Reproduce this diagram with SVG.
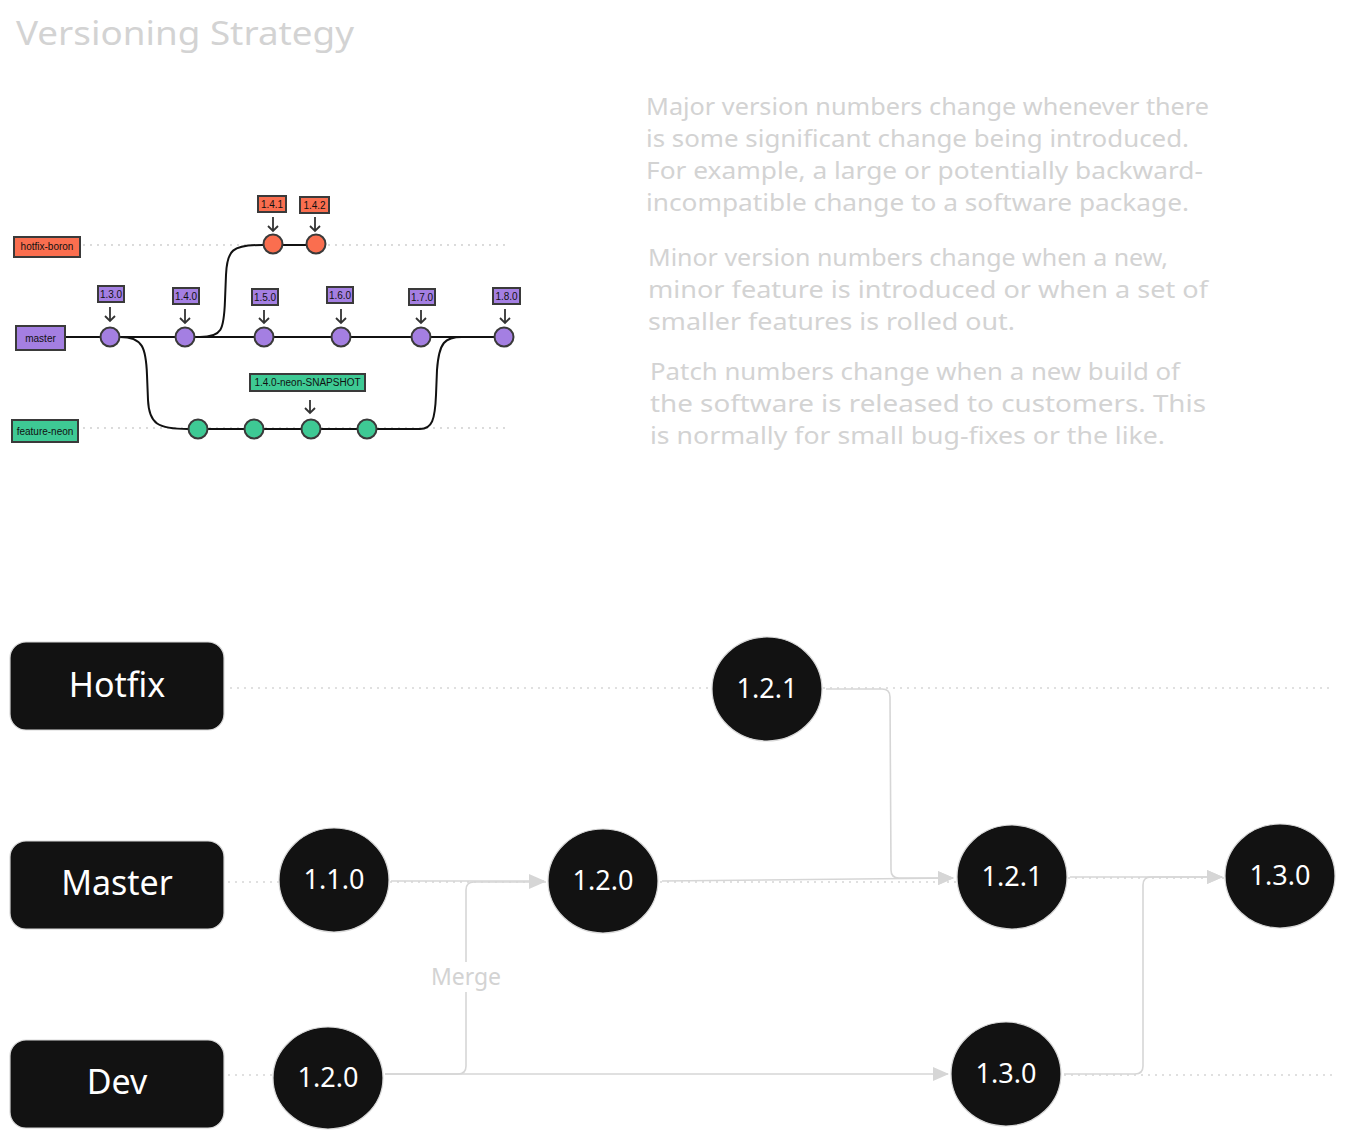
<svg xmlns="http://www.w3.org/2000/svg" width="1346" height="1141" viewBox="0 0 1346 1141">
<style>
.bg{fill:#ffffff}
.hand{font-family:"Noto Sans","Liberation Sans",sans-serif;fill:#d3d3d3}
.para{font-size:23px}
.tag{stroke:#3a3a3a;stroke-width:2}
.tagtxt{font-family:"Liberation Sans",Arial,sans-serif;font-size:10px;fill:#111;text-anchor:middle}
.coral{fill:#fa6e4f}
.purple{fill:#a47fe2}
.teal{fill:#3ec994}
.commit{stroke:#3a3a3a;stroke-width:2}
.branch{fill:none;stroke:#111;stroke-width:2}
.dots{fill:none;stroke:#cfcfcf;stroke-width:2;stroke-linecap:round;stroke-dasharray:0 7}
.ptr{fill:none;stroke:#333;stroke-width:1.8}
.box{fill:#121212;stroke:#d8d8d8;stroke-width:1.2}
.boxtxt{font-family:"Noto Sans","Liberation Sans",sans-serif;font-size:34px;fill:#ffffff;text-anchor:middle}
.ver{fill:#121212;stroke:#d8d8d8;stroke-width:1.2}
.vertxt{font-family:"Noto Sans","Liberation Sans",sans-serif;font-size:27px;fill:#ffffff;text-anchor:middle}
.lane{fill:none;stroke:#d6d6d6;stroke-width:1.3;stroke-dasharray:2 5}
.conn{fill:none;stroke:#d6d6d6;stroke-width:1.6}
</style>
<defs>
<marker id="big" viewBox="0 0 16 14" refX="15" refY="7" markerWidth="16" markerHeight="14" markerUnits="userSpaceOnUse" orient="auto">
<path d="M0,0 L16,7 L0,14 z" fill="#d6d6d6"/>
</marker>
</defs>
<rect class="bg" x="0" y="0" width="1346" height="1141"/>

<text class="hand" x="16" y="45" font-size="33" textLength="338" lengthAdjust="spacingAndGlyphs">Versioning Strategy</text>

<g id="description" class="hand para">
<text x="646" y="115" textLength="563" lengthAdjust="spacingAndGlyphs">Major version numbers change whenever there</text>
<text x="646" y="147" textLength="543" lengthAdjust="spacingAndGlyphs">is some significant change being introduced.</text>
<text x="646" y="179" textLength="557" lengthAdjust="spacingAndGlyphs">For example, a large or potentially backward-</text>
<text x="646" y="211" textLength="543" lengthAdjust="spacingAndGlyphs">incompatible change to a software package.</text>
<text x="648" y="266" textLength="520" lengthAdjust="spacingAndGlyphs">Minor version numbers change when a new,</text>
<text x="648" y="298" textLength="560" lengthAdjust="spacingAndGlyphs">minor feature is introduced or when a set of</text>
<text x="648" y="330" textLength="367" lengthAdjust="spacingAndGlyphs">smaller features is rolled out.</text>
<text x="650" y="380" textLength="530" lengthAdjust="spacingAndGlyphs">Patch numbers change when a new build of</text>
<text x="650" y="412" textLength="556" lengthAdjust="spacingAndGlyphs">the software is released to customers. This</text>
<text x="650" y="444" textLength="515" lengthAdjust="spacingAndGlyphs">is normally for small bug-fixes or the like.</text>
</g>

<!-- small git-flow picture -->
<g id="gitflow-lines">
<path class="dots" d="M84,245 H510"/>
<path class="dots" d="M84,428 H510"/>
<path class="branch" d="M66,337 H505"/>
<path class="branch" d="M200,337 C222,337 224,330 225,300 L226,275 C227,250 232,245 262,245 H316"/>
<path class="branch" d="M120,337 C143,337 146,348 147,375 L148,400 C149,424 158,429 188,429 H420 C432,429 435,420 436,395 L437,370 C439,342 445,337 462,337"/>
</g>

<g id="tag-hotfix-boron"><rect class="tag coral" x="14" y="237" width="66" height="20"/><text class="tagtxt" x="47" y="250">hotfix-boron</text></g>
<g id="tag-master"><rect class="tag purple" x="16" y="326" width="49" height="24"/><text class="tagtxt" x="40.5" y="341.5">master</text></g>
<g id="tag-feature-neon"><rect class="tag teal" x="12" y="420" width="66" height="22"/><text class="tagtxt" x="45" y="434.5">feature-neon</text></g>

<g id="commits-master">
<circle class="commit purple" cx="110" cy="337" r="9.5"/>
<circle class="commit purple" cx="185" cy="337" r="9.5"/>
<circle class="commit purple" cx="264" cy="337" r="9.5"/>
<circle class="commit purple" cx="341" cy="337" r="9.5"/>
<circle class="commit purple" cx="421" cy="337" r="9.5"/>
<circle class="commit purple" cx="504" cy="337" r="9.5"/>
</g>
<g id="commits-hotfix">
<circle class="commit coral" cx="273" cy="244" r="9.5"/>
<circle class="commit coral" cx="316" cy="244" r="9.5"/>
</g>
<g id="commits-feature">
<circle class="commit teal" cx="198" cy="429" r="9.5"/>
<circle class="commit teal" cx="254" cy="429" r="9.5"/>
<circle class="commit teal" cx="311" cy="429" r="9.5"/>
<circle class="commit teal" cx="367" cy="429" r="9.5"/>
</g>

<g id="version-tags">
<g><rect class="tag purple" x="98" y="286" width="26" height="16"/><text class="tagtxt" x="111" y="297.5">1.3.0</text><path class="ptr" d="M110,307 V321 M105,316 L110,321 L115,316"/></g>
<g><rect class="tag purple" x="173" y="288" width="26" height="16"/><text class="tagtxt" x="186" y="299.5">1.4.0</text><path class="ptr" d="M185,309 V323 M180,318 L185,323 L190,318"/></g>
<g><rect class="tag purple" x="252" y="289" width="26" height="16"/><text class="tagtxt" x="265" y="300.5">1.5.0</text><path class="ptr" d="M264,310 V323 M259,318 L264,323 L269,318"/></g>
<g><rect class="tag purple" x="327" y="287" width="26" height="16"/><text class="tagtxt" x="340" y="298.5">1.6.0</text><path class="ptr" d="M341,309 V323 M336,318 L341,323 L346,318"/></g>
<g><rect class="tag purple" x="409" y="289" width="26" height="16"/><text class="tagtxt" x="422" y="300.5">1.7.0</text><path class="ptr" d="M421,310 V323 M416,318 L421,323 L426,318"/></g>
<g><rect class="tag purple" x="493" y="288" width="27" height="16"/><text class="tagtxt" x="506.5" y="299.5">1.8.0</text><path class="ptr" d="M505,309 V323 M500,318 L505,323 L510,318"/></g>
<g><rect class="tag coral" x="258" y="196" width="28" height="16"/><text class="tagtxt" x="272" y="207.5">1.4.1</text><path class="ptr" d="M273,217 V231 M268,226 L273,231 L278,226"/></g>
<g><rect class="tag coral" x="300" y="197" width="29" height="16"/><text class="tagtxt" x="314.5" y="208.5">1.4.2</text><path class="ptr" d="M315,217 V231 M310,226 L315,231 L320,226"/></g>
<g><rect class="tag teal" x="250" y="374" width="115" height="17"/><text class="tagtxt" x="307.5" y="386">1.4.0-neon-SNAPSHOT</text><path class="ptr" d="M310,400 V413 M305,408 L310,413 L315,408"/></g>
</g>

<!-- bottom diagram -->
<g id="lanes">
<path class="lane" d="M230,688 H712 M823,688 H1332"/>
<path class="lane" d="M228,882 H280 M390,882 H548 M660,882 H957 M1068,878 H1225"/>
<path class="lane" d="M228,1075 H273 M1064,1075 H1332"/>
</g>

<g id="connectors">
<path class="conn" d="M391,881 H544" marker-end="url(#big)"/>
<path class="conn" d="M385,1074 H458 Q466,1074 466,1066 V890 Q466,882 474,882 H544" marker-end="url(#big)"/>
<path class="conn" d="M385,1074 H948" marker-end="url(#big)"/>
<path class="conn" d="M662,881 L953,878" marker-end="url(#big)"/>
<path class="conn" d="M826,689 H882 Q890,689 890,697 L891,870 Q891,878 899,878 H953" marker-end="url(#big)"/>
<path class="conn" d="M1070,877 H1222" marker-end="url(#big)"/>
<path class="conn" d="M1064,1074 H1135 Q1143,1074 1143,1066 V885 Q1143,877 1151,877 H1222" marker-end="url(#big)"/>
<rect x="440" y="962" width="52" height="30" fill="#ffffff"/>
<text class="hand" x="466" y="985" font-size="23" text-anchor="middle">Merge</text>
</g>

<g id="node-hotfix"><rect class="box" x="10" y="642" width="214" height="88" rx="16"/><text class="boxtxt" x="117" y="697">Hotfix</text></g>
<g id="node-master"><rect class="box" x="10" y="841" width="214" height="88" rx="16"/><text class="boxtxt" x="117" y="895">Master</text></g>
<g id="node-dev"><rect class="box" x="10" y="1040" width="214" height="88" rx="16"/><text class="boxtxt" x="117" y="1094">Dev</text></g>

<g id="v-hotfix-121"><ellipse class="ver" cx="767" cy="689" rx="55" ry="52"/><text class="vertxt" x="767" y="698">1.2.1</text></g>
<g id="v-master-110"><ellipse class="ver" cx="334" cy="880" rx="55" ry="52"/><text class="vertxt" x="334" y="889">1.1.0</text></g>
<g id="v-master-120"><ellipse class="ver" cx="603" cy="881" rx="55" ry="52"/><text class="vertxt" x="603" y="890">1.2.0</text></g>
<g id="v-master-121"><ellipse class="ver" cx="1012" cy="877" rx="55" ry="52"/><text class="vertxt" x="1012" y="886">1.2.1</text></g>
<g id="v-master-130"><ellipse class="ver" cx="1280" cy="876" rx="55" ry="52"/><text class="vertxt" x="1280" y="885">1.3.0</text></g>
<g id="v-dev-120"><ellipse class="ver" cx="328" cy="1078" rx="55" ry="51"/><text class="vertxt" x="328" y="1087">1.2.0</text></g>
<g id="v-dev-130"><ellipse class="ver" cx="1006" cy="1074" rx="55" ry="52"/><text class="vertxt" x="1006" y="1083">1.3.0</text></g>
</svg>
